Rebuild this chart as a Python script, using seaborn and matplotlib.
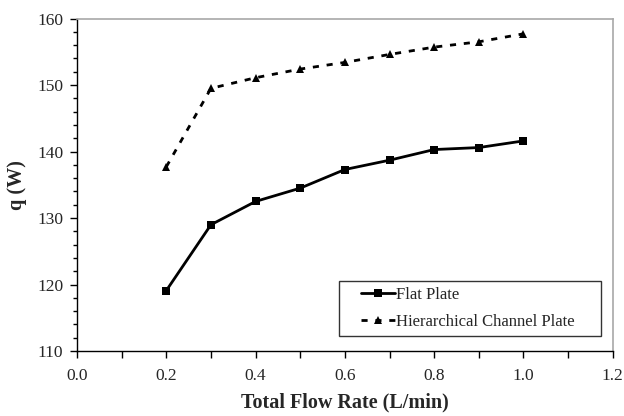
import numpy as np
import pandas as pd
import matplotlib
matplotlib.use('Agg')
import matplotlib.pyplot as plt
from matplotlib.ticker import MultipleLocator
from matplotlib.lines import Line2D
from matplotlib.legend_handler import HandlerLine2D
import seaborn as sns

# values
flow_rate = [0.2, 0.3, 0.4, 0.5, 0.6, 0.7, 0.8, 0.9, 1.0]
q_flat = [119.1, 129.0, 132.5, 134.5, 137.3, 138.7, 140.3, 140.6, 141.6]
q_hier = [137.7, 149.5, 151.1, 152.4, 153.4, 154.6, 155.7, 156.5, 157.7]
series_names = ['Flat Plate', 'Hierarchical Channel Plate']
x_ticks = [0.0, 0.1, 0.2, 0.3, 0.4, 0.5, 0.6, 0.7, 0.8, 0.9, 1.0, 1.1, 1.2]
y_ticks = [110, 120, 130, 140, 150, 160]

df = pd.DataFrame({
    'Flow': flow_rate * 2,
    'q': q_flat + q_hier,
    'Plate': [series_names[0]] * len(flow_rate) + [series_names[1]] * len(flow_rate),
})

sns.set_style('ticks')
plt.rcParams['font.family'] = ['Liberation Serif', 'DejaVu Serif']

fig = plt.figure(figsize=(6.24, 4.16), dpi=100)
ax = fig.add_axes([0.1234, 0.156, 0.8586, 0.7995])

sns.lineplot(data=df, x='Flow', y='q', hue='Plate', style='Plate',
             palette=['black', 'black'], markers=['s', '^'],
             dashes=[(None, None), (2.2, 2.8)], markersize=5.5,
             markeredgewidth=0, linewidth=2.0, ax=ax)

ax.set_xlim(0.0, 1.2)
ax.set_ylim(110, 160)
ax.set_xticks(x_ticks)
ax.set_xticklabels([f'{t:.1f}' if i % 2 == 0 else '' for i, t in enumerate(x_ticks)])
ax.set_yticks(y_ticks)
ax.yaxis.set_minor_locator(MultipleLocator(2))
ax.tick_params(axis='both', which='major', direction='out', length=5, width=1,
               color='black', labelsize=12.5)
ax.tick_params(axis='x', which='major', pad=7)
ax.tick_params(axis='y', which='major', pad=5)
ax.tick_params(axis='y', which='minor', direction='out', length=3, width=1, color='black')

for s in ['left', 'bottom']:
    ax.spines[s].set_color('black')
    ax.spines[s].set_linewidth(1.0)
for s in ['top', 'right']:
    ax.spines[s].set_color('#a8a8a8')
    ax.spines[s].set_linewidth(1.2)

ax.set_xlabel('Total Flow Rate (L/min)', fontsize=14.5, fontweight='bold', labelpad=6)
ax.set_ylabel('q (W)', fontsize=14.5, fontweight='bold', labelpad=7)

leg = ax.legend(loc='lower left', bbox_to_anchor=(0.489, 0.046, 0.489, 0.17),
                mode='expand', borderaxespad=0, fontsize=12, frameon=True,
                fancybox=False, handlelength=3.05, handletextpad=0.05,
                borderpad=0.33, labelspacing=0.7, title=None,
                handler_map={Line2D: HandlerLine2D(xpad=1.0)})
leg.get_frame().set_edgecolor('black')
leg.get_frame().set_linewidth(1.0)

fig.savefig('out.png', dpi=100)
